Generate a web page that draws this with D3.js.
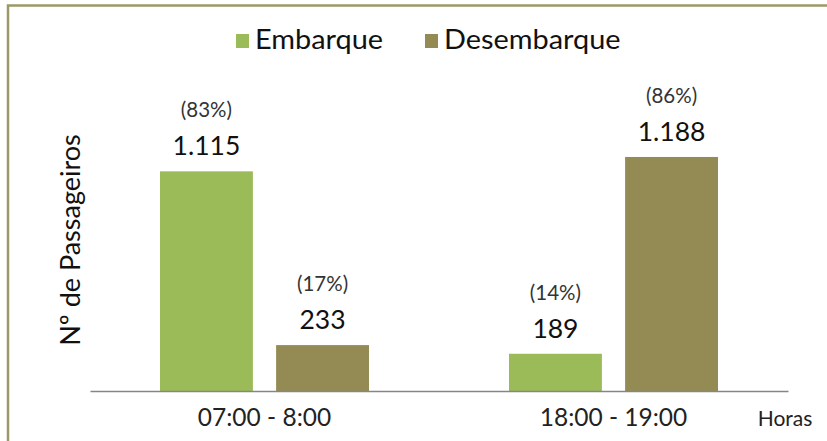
<!DOCTYPE html>
<html>
<head>
<meta charset="utf-8">
<script src="https://cdn.jsdelivr.net/npm/d3@7"></script>
<style>
  html, body { margin: 0; padding: 0; background: #fff; }
  svg { display: block; }
  text { font-family: Lato, "Open Sans", sans-serif; }
</style>
</head>
<body>
<svg id="chart" width="827" height="441"></svg>
<script>
// Passengers boarding / alighting per peak hour
const categories = ["07:00 - 8:00", "18:00 - 19:00"];
const series = ["Embarque", "Desembarque"];
const embarque = [1115, 189];
const desembarque = [233, 1188];
const embarquePct = ["(83%)", "(14%)"];
const desembarquePct = ["(17%)", "(86%)"];
const colors = ["#9bbb59", "#948a54"];

const values = [embarque, desembarque];
const pcts = [embarquePct, desembarquePct];
const fmt = v => d3.format(",")(v).replace(/,/g, ".");

const svg = d3.select("#chart");
const W = 827, H = 441;

// outer frame
svg.append("rect")
  .attr("x", 8).attr("y", 5.5)
  .attr("width", W + 20).attr("height", H + 20)
  .attr("fill", "none")
  .attr("stroke", "#9d9868")
  .attr("stroke-width", 2.5);

const plot = { left: 90, right: 788, bottom: 391 };

const x = d3.scaleBand().domain(categories).range([plot.left, plot.right]);
const xs = d3.scaleBand().domain(series).range([70, x.bandwidth() - 70]).paddingInner(0.2);
const y = d3.scaleLinear().domain([0, 1400]).range([plot.bottom, plot.bottom - 1400 * 0.197]);

const rows = [];
categories.forEach((c, i) => {
  series.forEach((s, j) => {
    rows.push({ cat: c, ser: s, v: values[j][i], pct: pcts[j][i], color: colors[j] });
  });
});

const g = svg.append("g");

g.selectAll("rect.bar")
  .data(rows)
  .enter().append("rect")
  .attr("class", "bar")
  .attr("x", d => x(d.cat) + xs(d.ser))
  .attr("y", d => y(d.v))
  .attr("width", xs.bandwidth())
  .attr("height", d => y(0) - y(d.v))
  .attr("fill", d => d.color);

// value labels
g.selectAll("text.val")
  .data(rows)
  .enter().append("text")
  .attr("class", "val")
  .attr("x", d => x(d.cat) + xs(d.ser) + xs.bandwidth() / 2)
  .attr("y", d => y(d.v) - 16)
  .attr("text-anchor", "middle")
  .attr("font-size", 26.5)
  .attr("fill", "#111")
  .text(d => fmt(d.v));

// share labels
g.selectAll("text.pct")
  .data(rows)
  .enter().append("text")
  .attr("class", "pct")
  .attr("x", d => x(d.cat) + xs(d.ser) + xs.bandwidth() / 2)
  .attr("y", d => y(d.v) - 54)
  .attr("text-anchor", "middle")
  .attr("font-size", 20.5)
  .attr("fill", "#333")
  .text(d => d.pct);

// category axis
const axis = svg.append("g")
  .attr("transform", `translate(0,${plot.bottom})`)
  .call(d3.axisBottom(x).tickSize(0).tickPadding(24));
axis.select(".domain").attr("stroke", "#868686").attr("stroke-width", 1.5);
axis.selectAll(".tick text")
  .attr("font-family", "Lato, 'Open Sans', sans-serif")
  .attr("font-size", 24.5)
  .attr("fill", "#222")
  .attr("dy", "0.45em");

svg.append("text")
  .attr("x", 785).attr("y", 426)
  .attr("text-anchor", "middle")
  .attr("font-size", 21)
  .attr("fill", "#222")
  .text("Horas");

// y-axis title
svg.append("text")
  .attr("transform", "translate(80,240) rotate(-90)")
  .attr("text-anchor", "middle")
  .attr("font-size", 27)
  .attr("fill", "#111")
  .text("Nº de Passageiros");

// legend
const legend = svg.append("g");
const legendX = [236, 425];
series.forEach((s, i) => {
  const lg = legend.append("g").attr("transform", `translate(${legendX[i]},34)`);
  lg.append("rect").attr("width", 13).attr("height", 14).attr("fill", colors[i]);
  lg.append("text")
    .attr("transform", "translate(19,15) scale(1.07,1)")
    .attr("font-size", 27)
    .attr("fill", "#111")
    .text(s);
});
</script>
</body>
</html>
